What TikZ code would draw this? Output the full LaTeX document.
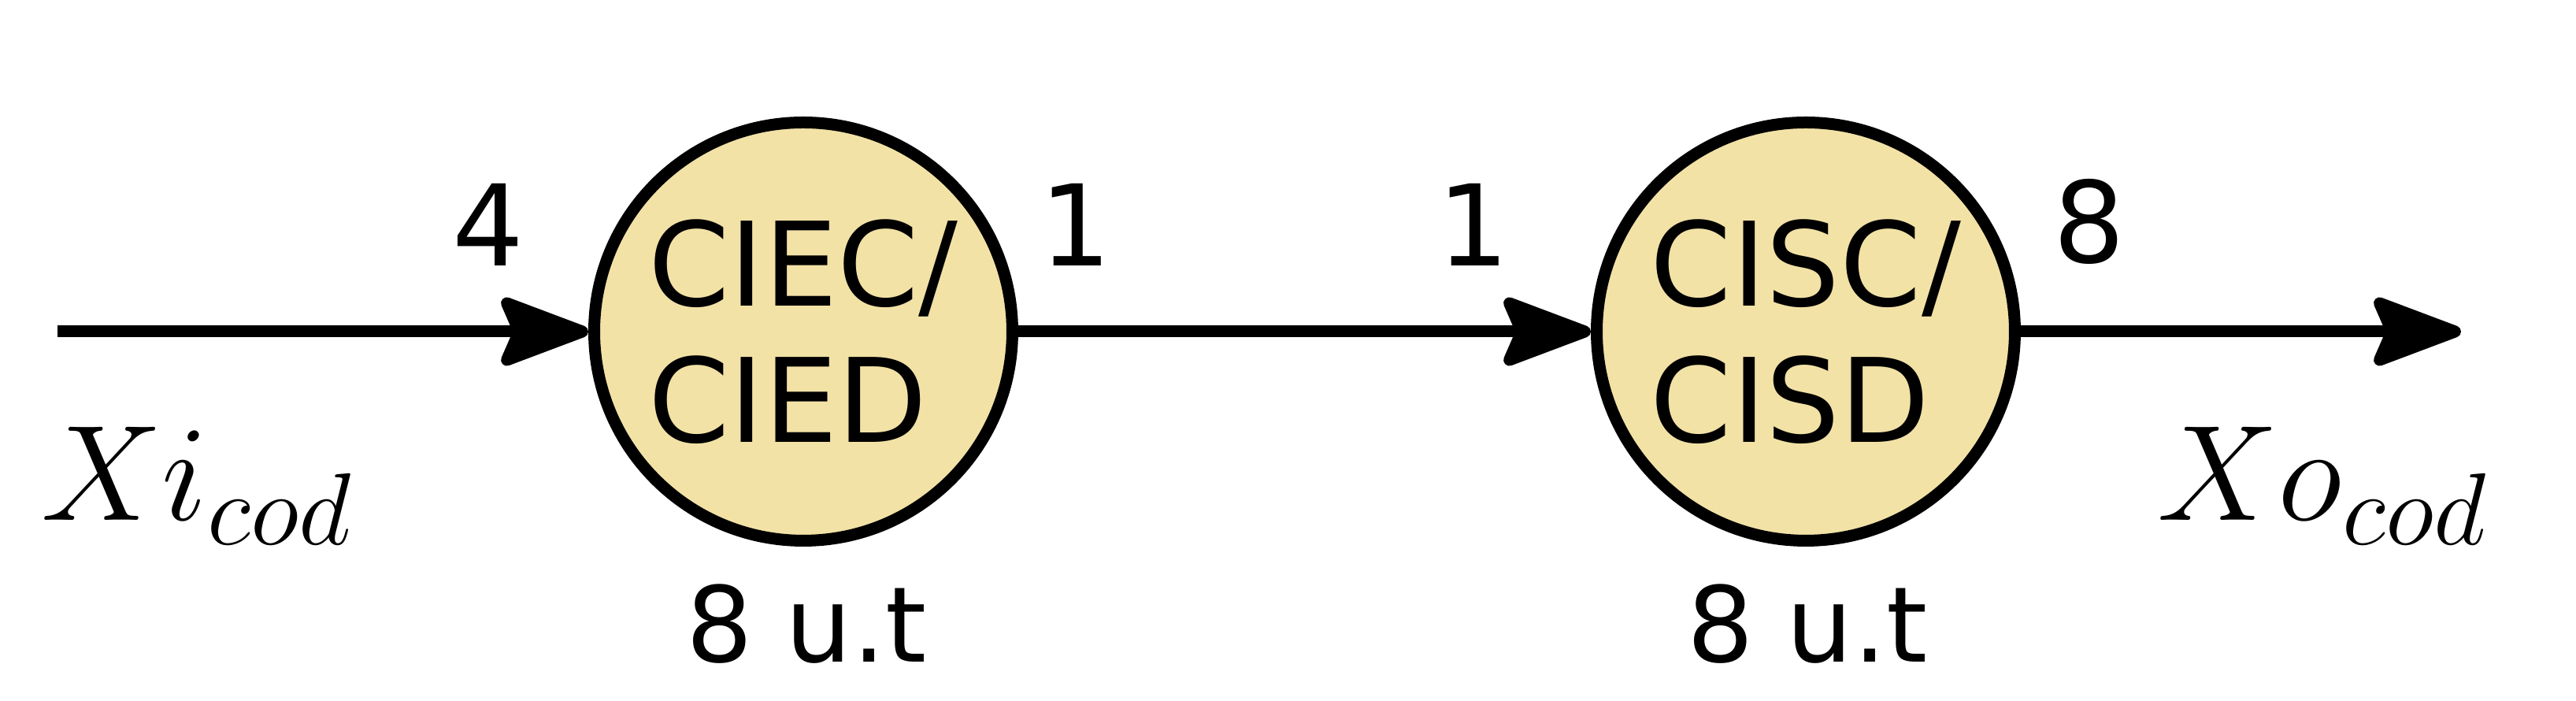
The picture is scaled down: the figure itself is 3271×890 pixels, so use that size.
\RequirePackage{fix-cm}
\documentclass[tikz,border=0pt]{standalone}
\usepackage{fontspec}
\newfontfamily\dejavu{DejaVu Sans}
\usetikzlibrary{arrows.meta}
\definecolor{nodefill}{RGB}{242,226,166}
\begin{document}
\begin{tikzpicture}[x=0.1pt,y=-0.1pt,
  proc/.style={circle, draw, line width=1.5pt, fill=nodefill, minimum size=53.1pt, inner sep=0pt, align=left, font=\dejavu\fontsize{14.8}{17.3}\selectfont},
  flow/.style={line width=1.5pt, -{Stealth[round, length=13pt, width=9.6pt, inset=2pt]}},
  num/.style={font=\dejavu\fontsize{14.3}{14.3}\selectfont, anchor=base, inner sep=0pt},
  dur/.style={font=\dejavu\fontsize{13.3}{13.3}\selectfont, anchor=base, inner sep=0pt},
  io/.style={font=\fontsize{17.3}{17.3}\selectfont, anchor=base west, inner sep=0pt}]
\useasboundingbox (0,0) rectangle (3271,890);
\node[proc] (p1) at (1020,421) {CIEC/\\CIED};
\node[proc] (p2) at (2293,421) {CISC/\\CISD};
\coordinate (in) at (73,421);
\coordinate (out) at (3125,421);
\draw[flow] (in) -- (p1);
\draw[flow] (p1) -- (p2);
\draw[flow] (p2) -- (out);
\node[num] (w1) at (620,338) {4};
\node[num] (w2) at (1366,338) {1};
\node[num] (w3) at (1871,338) {1};
\node[num] (w4) at (2653,334) {8};
\node[dur] (t1) at (1024,841) {8 u.t};
\node[dur] (t2) at (2295,841) {8 u.t};
\node[io] (xi) at (50,661) {$X i_{\mbox{\fontsize{13}{13}\selectfont$cod$}}$};
\node[io] (xo) at (2737,661) {$X o_{\mbox{\fontsize{13}{13}\selectfont$cod$}}$};
\end{tikzpicture}
\end{document}
